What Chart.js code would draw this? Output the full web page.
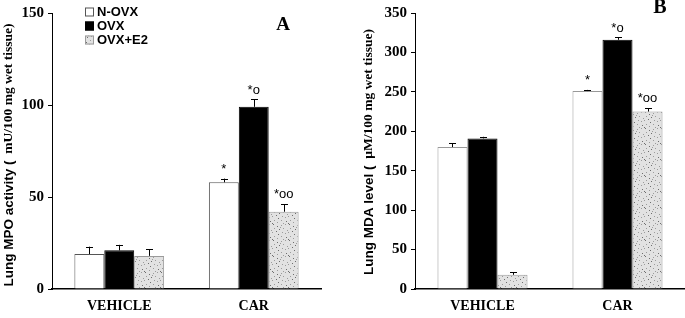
<!DOCTYPE html>
<html>
<head>
<meta charset="utf-8">
<script src="https://cdn.jsdelivr.net/npm/chart.js@4.4.1/dist/chart.umd.min.js"></script>
<style>
  html, body { margin: 0; padding: 0; background: #fff; }
  #wrap { position: relative; width: 685px; height: 318px; overflow: hidden; }
  .panel { position: absolute; top: 0; height: 318px; }
  #pa { left: 0; width: 340px; }
  #pb { left: 340px; width: 345px; }
</style>
</head>
<body>
<div id="wrap">
  <div class="panel" id="pa"><canvas id="ca" width="340" height="318"></canvas></div>
  <div class="panel" id="pb"><canvas id="cb" width="345" height="318"></canvas></div>
</div>
<script>
// ---- data ----
const categories = ["VEHICLE", "CAR"];
const seriesNames = ["N-OVX", "OVX", "OVX+E2"];

// Panel A: Lung MPO activity
const mpoNOVX = [19, 58];
const mpoOVX = [21, 99];
const mpoE2 = [18, 42];
const mpoErrNOVX = [4, 2];
const mpoErrOVX = [3, 4];
const mpoErrE2 = [3.5, 4];
const mpoTicksMax = 150;

// Panel B: Lung MDA level
const mdaNOVX = [180, 251];
const mdaOVX = [191, 316];
const mdaE2 = [18, 225];
const mdaErrNOVX = [5, 1.5];
const mdaErrOVX = [2, 3];
const mdaErrE2 = [3, 4];
const mdaTicksMax = 350;

// significance marks
const marksNOVX = ["", "*"];
const marksOVX = ["", "*o"];
const marksE2 = ["", "*oo"];

const titleA = ["Lung MPO activity (", "  mU/100 mg wet tissue)"];
const titleB = ["Lung MDA level (", "  \u00b5M/100 mg wet tissue)"];

// ---- styles ----
const SERIF = "'Liberation Serif', 'Times New Roman', serif";
const SANS = "'Liberation Sans', Arial, sans-serif";

function stipple() {
  const c = document.createElement('canvas');
  c.width = 16; c.height = 16;
  const g = c.getContext('2d');
  g.fillStyle = '#e2e2e2';
  g.fillRect(0, 0, 16, 16);
  const dots = [[1,0],[9,1],[13,0],[5,2],[11,4],[2,4],[7,5],[15,6],[0,8],[4,7],
                [10,8],[13,9],[6,10],[2,12],[9,12],[14,13],[5,14],[11,15],[0,15],[8,3]];
  dots.forEach((d, k) => {
    g.fillStyle = k % 3 === 0 ? '#6e6e6e' : '#9c9c9c';
    g.fillRect(d[0], d[1], 1, 1);
  });
  return g.createPattern(c, 'repeat');
}

const errPlugin = {
  id: 'errbars',
  afterDatasetsDraw(chart, args, opts) {
    const ctx = chart.ctx;
    const y = chart.scales.y;
    ctx.save();
    chart.data.datasets.forEach((ds, di) => {
      const meta = chart.getDatasetMeta(di);
      meta.data.forEach((bar, i) => {
        const v = ds.data[i];
        const e = ds.err[i];
        const yTop = y.getPixelForValue(v + e);
        const yv = y.getPixelForValue(v);
        ctx.strokeStyle = '#000';
        ctx.lineWidth = 1;
        ctx.beginPath();
        ctx.moveTo(Math.round(bar.x) + 0.5, yv);
        ctx.lineTo(Math.round(bar.x) + 0.5, yTop);
        ctx.moveTo(Math.round(bar.x) - 3, Math.round(yTop) + 0.5);
        ctx.lineTo(Math.round(bar.x) + 4, Math.round(yTop) + 0.5);
        ctx.stroke();
        const m = ds.marks[i];
        if (m) {
          ctx.fillStyle = '#000';
          ctx.font = '13px ' + SANS;
          ctx.textAlign = 'center';
          ctx.textBaseline = 'bottom';
          ctx.fillText(m, bar.x, yTop - 3);
        }
      });
    });
    ctx.restore();
  }
};

const decoPlugin = {
  id: 'deco',
  afterDraw(chart, args, o) {
    const ctx = chart.ctx;
    ctx.save();
    ctx.translate(o.titleX, o.titleY);
    ctx.rotate(-Math.PI / 2);
    ctx.textBaseline = 'middle';
    ctx.fillStyle = '#000';
    const f1 = 'bold 13.5px ' + SANS, f2 = 'bold 13.5px ' + SERIF;
    ctx.font = f1; const w1 = ctx.measureText(o.title[0]).width;
    ctx.font = f2; const w2 = ctx.measureText(o.title[1]).width;
    let x0 = -(w1 + w2) / 2;
    ctx.textAlign = 'left';
    ctx.font = f1; ctx.fillText(o.title[0], x0, 0);
    ctx.font = f2; ctx.fillText(o.title[1], x0 + w1, 0);
    ctx.restore();
    ctx.save();
    ctx.font = 'bold ' + o.letterSize + 'px ' + SERIF;
    ctx.textAlign = 'center';
    ctx.textBaseline = 'middle';
    ctx.fillStyle = '#000';
    ctx.fillText(o.letter, o.letterX, o.letterY);
    ctx.restore();
    if (o.legend) {
      ctx.save();
      chart.data.datasets.forEach((ds, i) => {
        const cy = o.legendY + i * 14;
        ctx.fillStyle = ds.backgroundColor;
        ctx.fillRect(o.legendX, cy - 4.5, 9, 9);
        ctx.strokeStyle = ds.borderColor;
        ctx.lineWidth = 1;
        ctx.strokeRect(o.legendX + 0.5, cy - 4, 8, 8);
        ctx.fillStyle = '#000';
        ctx.font = 'bold 13px ' + SANS;
        ctx.textAlign = 'left';
        ctx.textBaseline = 'middle';
        ctx.fillText(ds.label, o.legendX + 12, cy + 0.5);
      });
      ctx.restore();
    }
  }
};

function makeDatasets(vals, errs, borderN) {
  const pat = stipple();
  return [
    { label: seriesNames[0], data: vals[0], err: errs[0], marks: marksNOVX,
      backgroundColor: '#ffffff', borderColor: borderN, borderWidth: 1 },
    { label: seriesNames[1], data: vals[1], err: errs[1], marks: marksOVX,
      backgroundColor: '#000000', borderColor: '#000000', borderWidth: 1 },
    { label: seriesNames[2], data: vals[2], err: errs[2], marks: marksE2,
      backgroundColor: pat, borderColor: '#9a9a9a', borderWidth: 1 }
  ];
}

function makeChart(id, datasets, maxY, yWidth, pad, deco) {
  return new Chart(document.getElementById(id), {
    type: 'bar',
    data: { labels: categories, datasets: datasets },
    plugins: [errPlugin, decoPlugin],
    options: {
      responsive: false,
      animation: false,
      devicePixelRatio: 1,
      layout: { padding: pad },
      datasets: { bar: { categoryPercentage: 0.667, barPercentage: 1.0, borderSkipped: 'start' } },
      plugins: { legend: { display: false }, tooltip: { enabled: false }, deco: deco },
      scales: {
        x: {
          grid: { display: false, drawTicks: false },
          border: { color: '#000', width: 1.5 },
          ticks: { color: '#000', font: { family: SERIF, weight: 'bold', size: 14 }, padding: 9 },
          afterFit(s) { s.height = 29; }
        },
        y: {
          min: 0, max: maxY,
          grid: { display: true, drawOnChartArea: false, drawTicks: true, tickLength: 4, color: '#000' },
          border: { color: '#000', width: 1 },
          ticks: { stepSize: 50, color: '#000', font: { family: SERIF, weight: 'bold', size: 15 }, padding: 4 },
          afterFit(s) { s.width = yWidth; }
        }
      }
    }
  });
}

makeChart('ca',
  makeDatasets([mpoNOVX, mpoOVX, mpoE2], [mpoErrNOVX, mpoErrOVX, mpoErrE2], '#555'),
  mpoTicksMax, 52, { top: 9, right: 19, left: 0, bottom: 0 },
  { title: titleA, titleX: 9, titleY: 155, letter: 'A', letterX: 283, letterY: 25, letterSize: 19,
    legend: true, legendX: 85, legendY: 12 });

makeChart('cb',
  makeDatasets([mdaNOVX, mdaOVX, mdaE2], [mdaErrNOVX, mdaErrOVX, mdaErrE2], '#999'),
  mdaTicksMax, 75, { top: 9, right: 0, left: 0, bottom: 0 },
  { title: titleB, titleX: 29, titleY: 152, letter: 'B', letterX: 320, letterY: 8, letterSize: 20,
    legend: false });
</script>
</body>
</html>
